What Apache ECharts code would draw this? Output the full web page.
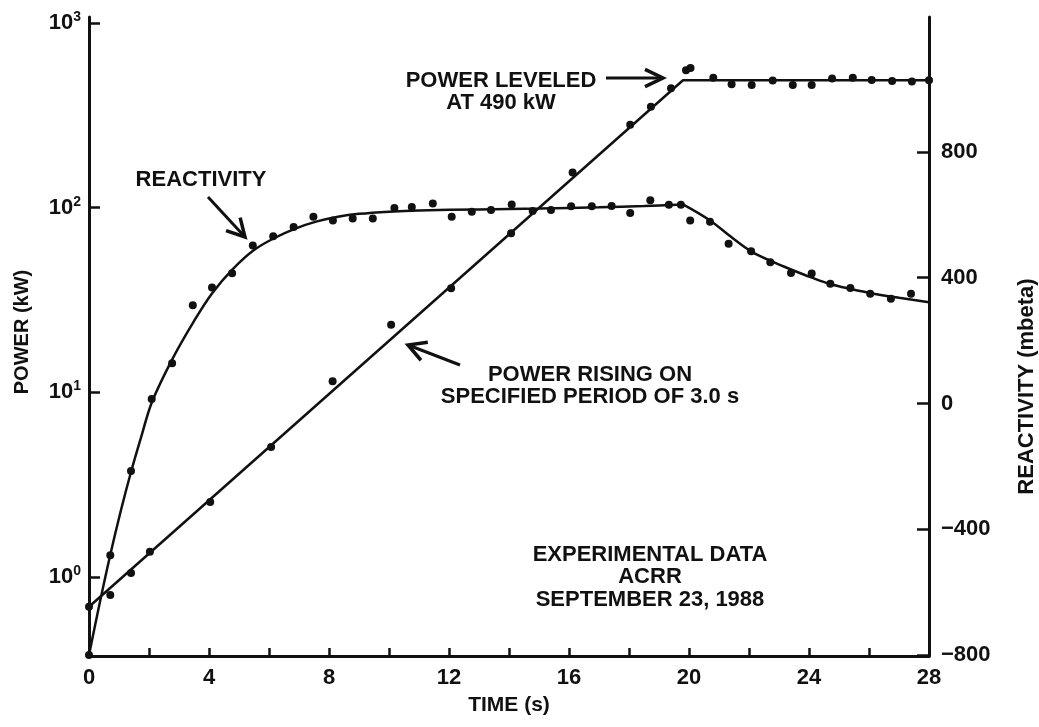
<!DOCTYPE html>
<html><head><meta charset="utf-8">
<script src="https://cdn.jsdelivr.net/npm/echarts@6/dist/echarts.min.js"></script>
<style>html,body{margin:0;padding:0;background:#fff}#c{width:1039px;height:727px}</style>
</head><body><div id="c"></div>
<script>
// ---- data (time in s, power in kW, reactivity in mbeta) ----
const powerDots = [[0,0.69],[0.71,0.80],[1.4,1.05],[2.03,1.37],[4.04,2.55],[6.07,5.06],[8.12,11.5],
  [10.07,23.2],[12.07,36.6],[14.07,72.6],[16.12,155],[18.04,281],[18.73,352],[19.4,444],[19.9,555],[20.05,570],
  [20.81,505],[21.42,466],[22.09,461],[22.79,488],[23.46,462],[24.09,461],[24.77,500],[25.46,506],
  [26.09,492],[26.77,486],[27.43,482],[28,490]];
const powerFit = [[0,0.69],[19.8,490],[28,490]];
const reactDots = [[0,-800],[0.71,-483],[1.4,-215],[2.09,14],[2.77,128],[3.46,312],[4.1,369],[4.77,414],
  [5.46,502],[6.14,532],[6.82,561],[7.48,594],[8.13,582],[8.79,588],[9.46,588],[10.18,622],[10.76,625],
  [11.46,636],[12.09,594],[12.76,610],[13.4,615],[14.09,633],[14.79,612],[15.4,615],[16.07,627],[16.76,627],
  [17.42,628],[18.04,606],[18.71,646],[19.33,632],[19.73,632],[20.04,582],[20.7,578],[21.32,508],[22.07,484],
  [22.71,449],[23.4,415],[24.09,413],[24.71,381],[25.38,367],[26.04,349],[26.73,333],[27.4,349],[28.05,325]];
const reactFitRise = [[0,-800],[0.35,-638],[0.7,-485],[1.05,-345],[1.4,-218],[1.75,-103],[2.1,5],[2.8,145],
  [3.5,262],[4.1,350],[4.8,428],[5.5,488],[6.2,527],[6.9,557],[7.6,579],[8.3,594],[9,603],[10,610],[11,614],
  [13,617],[15,620],[17,624],[18.5,628],[19.8,633]];
const reactFitFall = [[19.8,633],[20.7,582],[21.4,530],[22.1,482],[22.8,450],[23.4,426],[24.1,400],[24.7,380],
  [25.4,364],[26.1,350],[27,336],[28,322]];
const powerTicks = [1,10,100,1000];
const reactTicks = [-800,-400,0,400,800];
const timeLabelStep = 4;

const FONT = '"Liberation Sans", Arial, Helvetica, sans-serif';
const INK = '#111';

function arrow(tail, tip, len, half) {
  const dx = tail[0]-tip[0], dy = tail[1]-tip[1];
  const d = Math.hypot(dx, dy), ux = dx/d, uy = dy/d;
  const rot = a => [tip[0] + len*(ux*Math.cos(a) - uy*Math.sin(a)), tip[1] + len*(ux*Math.sin(a) + uy*Math.cos(a))];
  return [
    {type:'line', shape:{x1:tail[0], y1:tail[1], x2:tip[0], y2:tip[1]}, style:{stroke:INK, lineWidth:3}},
    {type:'polyline', shape:{points:[rot(half), tip, rot(-half)]}, style:{stroke:INK, lineWidth:3.5, fill:null, lineJoin:'miter'}}
  ];
}
function label(text, x, y, lh) {
  return {type:'text', x:x, y:y, style:{text:text, x:0, y:0, align:'center', verticalAlign:'middle',
    font:'bold 22px ' + FONT, fill:INK, lineHeight:lh}};
}

const chart = echarts.init(document.getElementById('c'), null, {renderer:'canvas'});
const axisLine = {show:true, onZero:false, lineStyle:{color:INK, width:3}};
chart.setOption({
  animation:false,
  backgroundColor:'#fff',
  grid:{left:89, right:110, top:17, bottom:71, outerBoundsMode:'none', containLabel:false},
  xAxis:{type:'value', min:0, max:28, interval:2,
    name:'TIME (s)', nameLocation:'middle', nameGap:39,
    nameTextStyle:{fontFamily:FONT, fontWeight:'bold', fontSize:21, color:INK},
    axisLine:axisLine,
    axisTick:{show:true, inside:true, length:8, lineStyle:{color:INK, width:2.5}},
    axisLabel:{margin:11, fontFamily:FONT, fontWeight:'bold', fontSize:22, color:INK,
      formatter: v => (v % timeLabelStep === 0 ? String(v) : '')},
    splitLine:{show:false}},
  yAxis:[
    {type:'log', logBase:10, min:0.3734, max:1078, position:'left',
      name:'POWER (kW)', nameLocation:'middle', nameGap:57, nameRotate:90,
      nameTextStyle:{fontFamily:FONT, fontWeight:'bold', fontSize:20, color:INK, padding:[0,0,0,9]},
      axisLine:axisLine,
      axisTick:{show:true, inside:true, length:11, customValues:powerTicks, lineStyle:{color:INK, width:2.5}},
      minorTick:{show:false},
      axisLabel:{margin:8, customValues:powerTicks, color:INK,
        formatter: v => '{b|10}{s|' + Math.round(Math.log10(v)) + '}',
        rich:{b:{fontFamily:FONT, fontWeight:'bold', fontSize:22, color:INK},
              s:{fontFamily:FONT, fontWeight:'bold', fontSize:14, color:INK, padding:[0,0,12,0]}}},
      splitLine:{show:false}},
    {type:'value', min:-803, max:1229, position:'right',
      name:'REACTIVITY (mbeta)', nameLocation:'middle', nameGap:87, nameRotate:90,
      nameTextStyle:{fontFamily:FONT, fontWeight:'bold', fontSize:22, color:INK, padding:[0,100,0,0]},
      axisLine:axisLine,
      axisTick:{show:true, inside:true, length:12, customValues:reactTicks, lineStyle:{color:INK, width:2.5}},
      axisLabel:{margin:12, customValues:reactTicks, fontFamily:FONT, fontWeight:'bold', fontSize:22, color:INK,
        formatter: v => (v < 0 ? '\u2212' + Math.abs(v) : String(v))},
      splitLine:{show:false}}
  ],
  series:[
    {type:'line', yAxisIndex:0, data:powerFit, showSymbol:false, lineStyle:{color:INK, width:2.5}, z:2},
    {type:'line', yAxisIndex:1, data:reactFitRise, smooth:0.35, showSymbol:false, lineStyle:{color:INK, width:2.5}, z:2},
    {type:'line', yAxisIndex:1, data:reactFitFall, smooth:0.35, showSymbol:false, lineStyle:{color:INK, width:2.5}, z:2},
    {type:'scatter', yAxisIndex:0, data:powerDots, symbol:'circle', symbolSize:8, itemStyle:{color:INK, opacity:1}, z:3},
    {type:'scatter', yAxisIndex:1, data:reactDots, symbol:'circle', symbolSize:8, itemStyle:{color:INK, opacity:1}, z:3}
  ],
  graphic:[
    label('POWER LEVELED\nAT 490 kW', 501, 92, 22),
    ...arrow([606,78],[663,78],20,0.45),
    label('REACTIVITY', 201, 180, 22),
    ...arrow([208,197],[245,237],20,0.5),
    label('POWER RISING ON\nSPECIFIED PERIOD OF 3.0 s', 590, 386, 22),
    ...arrow([460,365],[408,345],20,0.5),
    label('EXPERIMENTAL DATA\nACRR\nSEPTEMBER 23, 1988', 650, 577, 22.5)
  ]
});
</script></body></html>
